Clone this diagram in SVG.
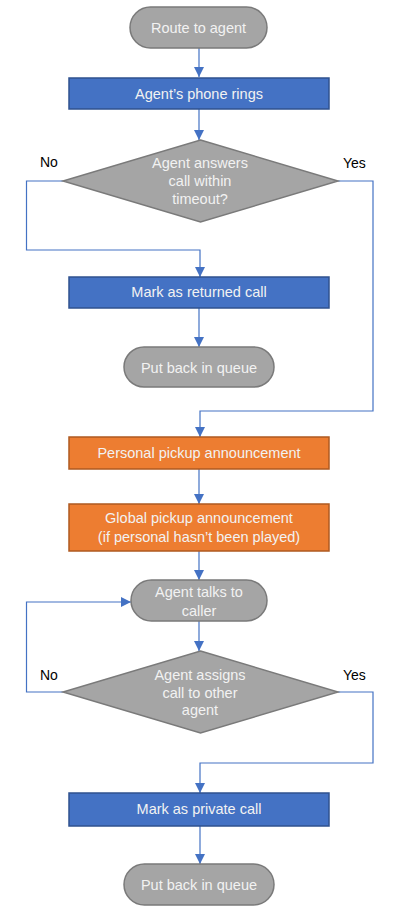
<svg xmlns="http://www.w3.org/2000/svg" width="400" height="910" viewBox="0 0 400 910">
<style>
.pill{fill:#A5A5A5;stroke:#7A7A7A;stroke-width:1.5}
.blue{fill:#4472C4;stroke:#2F528F;stroke-width:1.5}
.orange{fill:#ED7D31;stroke:#AE5A21;stroke-width:1.5}
.dia{fill:#A5A5A5;stroke:#7A7A7A;stroke-width:1.5}
.t{font-family:"Liberation Sans",Arial,sans-serif;font-size:14.5px;fill:#F2F2F2;text-anchor:middle}
.lbl{font-family:"Liberation Sans",Arial,sans-serif;font-size:14px;fill:#000}
.c{fill:none;stroke:#4472C4;stroke-width:1.2}
</style>
<defs>
<marker id="ah" markerUnits="userSpaceOnUse" markerWidth="10" markerHeight="10" refX="10" refY="5" orient="auto" viewBox="0 0 10 10">
<path d="M0,0 L10,5 L0,10 z" fill="#4472C4"/>
</marker>
</defs>
<g id="connectors">
<path class="c" d="M199,48 V77" marker-end="url(#ah)"/>
<path class="c" d="M199,109 V140" marker-end="url(#ah)"/>
<path class="c" d="M63,181 H26.5 V250 H200 V277" marker-end="url(#ah)"/>
<path class="c" d="M338,181 H373 V411 H200 V437" marker-end="url(#ah)"/>
<path class="c" d="M199,308 V347" marker-end="url(#ah)"/>
<path class="c" d="M199,469 V504" marker-end="url(#ah)"/>
<path class="c" d="M199,551 V580" marker-end="url(#ah)"/>
<path class="c" d="M199,621 V651" marker-end="url(#ah)"/>
<path class="c" d="M63,692 H26.5 V602 H131" marker-end="url(#ah)"/>
<path class="c" d="M338,692 H373 V763 H200 V793" marker-end="url(#ah)"/>
<path class="c" d="M200,826 V864" marker-end="url(#ah)"/>
</g>
<g id="labels">
<text class="lbl" x="40" y="167">No</text>
<text class="lbl" x="343" y="168">Yes</text>
<text class="lbl" x="40" y="680">No</text>
<text class="lbl" x="343" y="680">Yes</text>
</g>
<g id="route">
<rect class="pill" x="130" y="7" width="137" height="41" rx="20.5"/>
<text class="t" x="198.5" y="33">Route to agent</text>
</g>
<g id="rings">
<rect class="blue" x="69" y="78" width="260" height="31"/>
<text class="t" x="199" y="99">Agent’s phone rings</text>
</g>
<g id="answers">
<polygon class="dia" points="200.5,140 338,181 200.5,222 63,181"/>
<text class="t" x="200" y="168">Agent answers</text>
<text class="t" x="200" y="186">call within</text>
<text class="t" x="200" y="204">timeout?</text>
</g>
<g id="returned">
<rect class="blue" x="69" y="277" width="260" height="31"/>
<text class="t" x="199" y="297">Mark as returned call</text>
</g>
<g id="queue1">
<rect class="pill" x="124" y="347" width="150" height="40" rx="20"/>
<text class="t" x="199" y="373">Put back in queue</text>
</g>
<g id="personal">
<rect class="orange" x="69" y="437" width="260" height="32"/>
<text class="t" x="199" y="458">Personal pickup announcement</text>
</g>
<g id="global">
<rect class="orange" x="69" y="504" width="260" height="47"/>
<text class="t" x="199" y="523">Global pickup announcement</text>
<text class="t" x="199" y="542">(if personal hasn’t been played)</text>
</g>
<g id="talks">
<rect class="pill" x="131" y="580" width="136" height="41" rx="20.5"/>
<text class="t" x="199" y="597">Agent talks to</text>
<text class="t" x="199" y="616">caller</text>
</g>
<g id="assigns">
<polygon class="dia" points="200.5,651 338,692 200.5,733 63,692"/>
<text class="t" x="200" y="680">Agent assigns</text>
<text class="t" x="200" y="698">call to other</text>
<text class="t" x="200" y="715">agent</text>
</g>
<g id="private">
<rect class="blue" x="69" y="793" width="260" height="33"/>
<text class="t" x="199" y="814">Mark as private call</text>
</g>
<g id="queue2">
<rect class="pill" x="124" y="864" width="150" height="41" rx="20.5"/>
<text class="t" x="199" y="890">Put back in queue</text>
</g>
</svg>
